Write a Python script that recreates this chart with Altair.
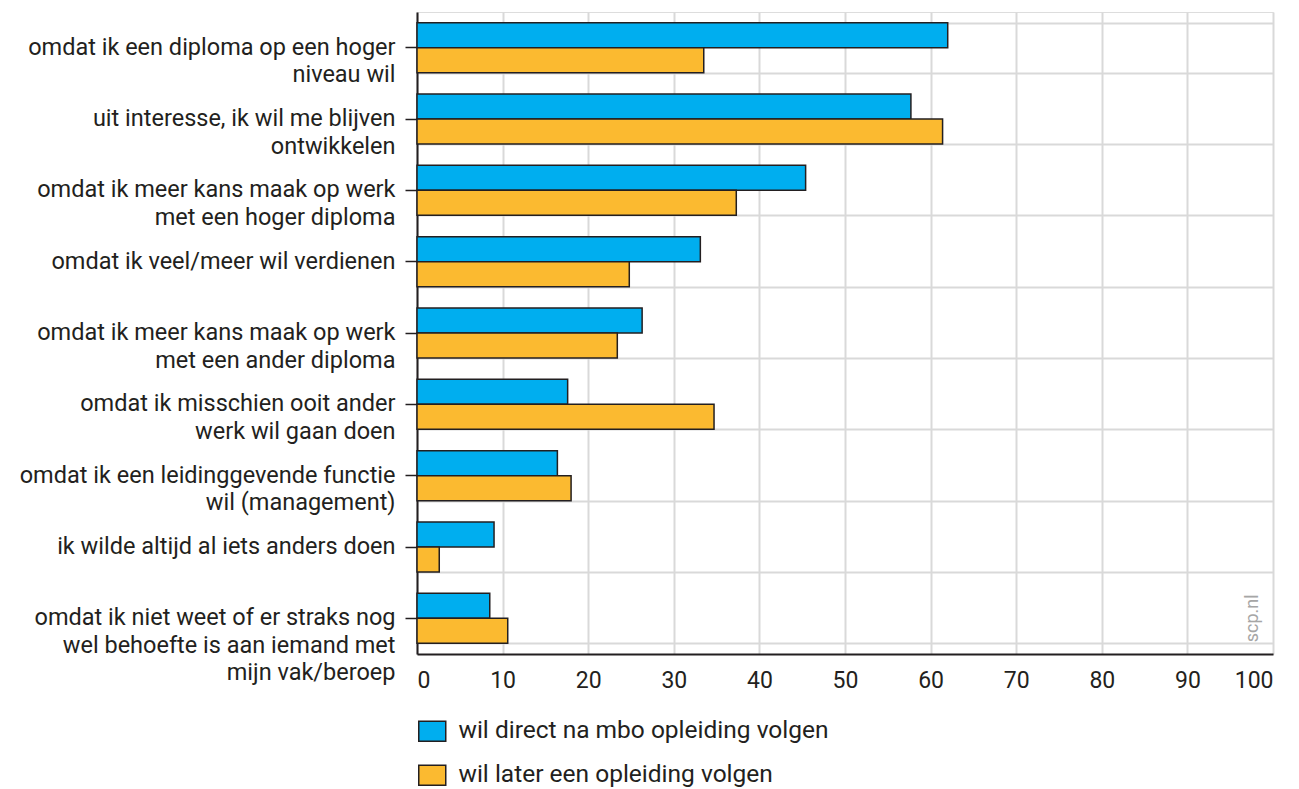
import altair as alt
import pandas as pd

categories = [
    "omdat ik een diploma op een hoger|niveau wil",
    "uit interesse, ik wil me blijven|ontwikkelen",
    "omdat ik meer kans maak op werk|met een hoger diploma",
    "omdat ik veel/meer wil verdienen",
    "omdat ik meer kans maak op werk|met een ander diploma",
    "omdat ik misschien ooit ander|werk wil gaan doen",
    "omdat ik een leidinggevende functie|wil (management)",
    "ik wilde altijd al iets anders doen",
    "omdat ik niet weet of er straks nog|wel behoefte is aan iemand met|mijn vak/beroep",
]
series = ["wil direct na mbo opleiding volgen", "wil later een opleiding volgen"]
direct = [62.0, 57.7, 45.4, 33.1, 26.3, 17.6, 16.4, 9.0, 8.5]
later = [33.5, 61.4, 37.3, 24.8, 23.4, 34.7, 18.0, 2.6, 10.6]
colors = ["#00aeef", "#fbba30"]
x_ticks = list(range(0, 101, 10))
watermark = "scp.nl"

rows = []
for c, d, l in zip(categories, direct, later):
    rows.append({"cat": c, "series": series[0], "value": d})
    rows.append({"cat": c, "series": series[1], "value": l})
df = pd.DataFrame(rows)

FONT = "Roboto"
INK = "#231f20"
GRID = "#d9d9d9"

yscale = alt.Scale(domain=categories, paddingInner=0.3, paddingOuter=0.15)
xscale = alt.Scale(domain=[0, 100], nice=False)
xaxis = alt.Axis(values=x_ticks, grid=True, gridColor=GRID, gridWidth=2,
                 ticks=False, domainColor=INK, domainWidth=2,
                 labelFontSize=23, labelColor=INK, labelPadding=15,
                 labelFont=FONT)

bars = alt.Chart(df).mark_bar(stroke=INK, strokeWidth=1.5).encode(
    x=alt.X("value:Q", scale=xscale, title=None, axis=xaxis),
    y=alt.Y("cat:N", scale=yscale, sort=categories, title=None,
            axis=alt.Axis(orient="left", grid=False, ticks=True, tickSize=12,
                          tickColor=INK, tickWidth=1.5, domainColor=INK, domainWidth=2,
                          labelExpr="split(datum.label, '|')", labelFontSize=23.5,
                          labelLineHeight=27.5, labelColor=INK, labelPadding=10,
                          labelLimit=600, labelFont=FONT)),
    yOffset=alt.YOffset("series:N", sort=series),
    color=alt.Color("series:N", sort=series,
                    scale=alt.Scale(domain=series, range=colors),
                    legend=alt.Legend(title=None, orient="none", legendX=3, legendY=707,
                                      direction="vertical",
                                      symbolType="M-1.35,-1H1.35V1H-1.35Z",
                                      symbolSize=400, symbolStrokeColor=INK,
                                      symbolStrokeWidth=1.5, labelFontSize=24.5,
                                      labelColor=INK, labelOffset=14, rowPadding=17,
                                      labelLimit=600, labelFont=FONT, symbolOpacity=1)),
)

grid = alt.Chart(df).mark_tick(opacity=0).encode(
    x=alt.X("value:Q", scale=xscale, title=None, axis=xaxis),
    y=alt.Y("cat:N", scale=yscale, sort=categories, title=None,
            axis=alt.Axis(orient="right", grid=True, gridColor=GRID, gridWidth=2,
                          tickBand="extent", labels=False, ticks=False, domain=False)),
)

wm_df = pd.DataFrame({"x": [97.7], "cat": [categories[-1]], "t": [watermark]})
wm = alt.Chart(wm_df).mark_text(angle=270, fontSize=18, color="#a6a6a6", font=FONT,
                                align="center", baseline="middle").encode(
    x=alt.X("x:Q", scale=xscale, title=None, axis=xaxis),
    y=alt.Y("cat:N", scale=yscale, sort=categories, axis=None),
    text="t:N",
)

chart = alt.layer(grid, bars, wm).resolve_axis(y="independent").properties(
    width=856, height=642,
    padding={"left": 11, "top": 4, "right": 5, "bottom": 5},
).configure_view(stroke=None).configure(font=FONT)

chart.save("out.html", embed_options={"renderer": "svg", "actions": False})
